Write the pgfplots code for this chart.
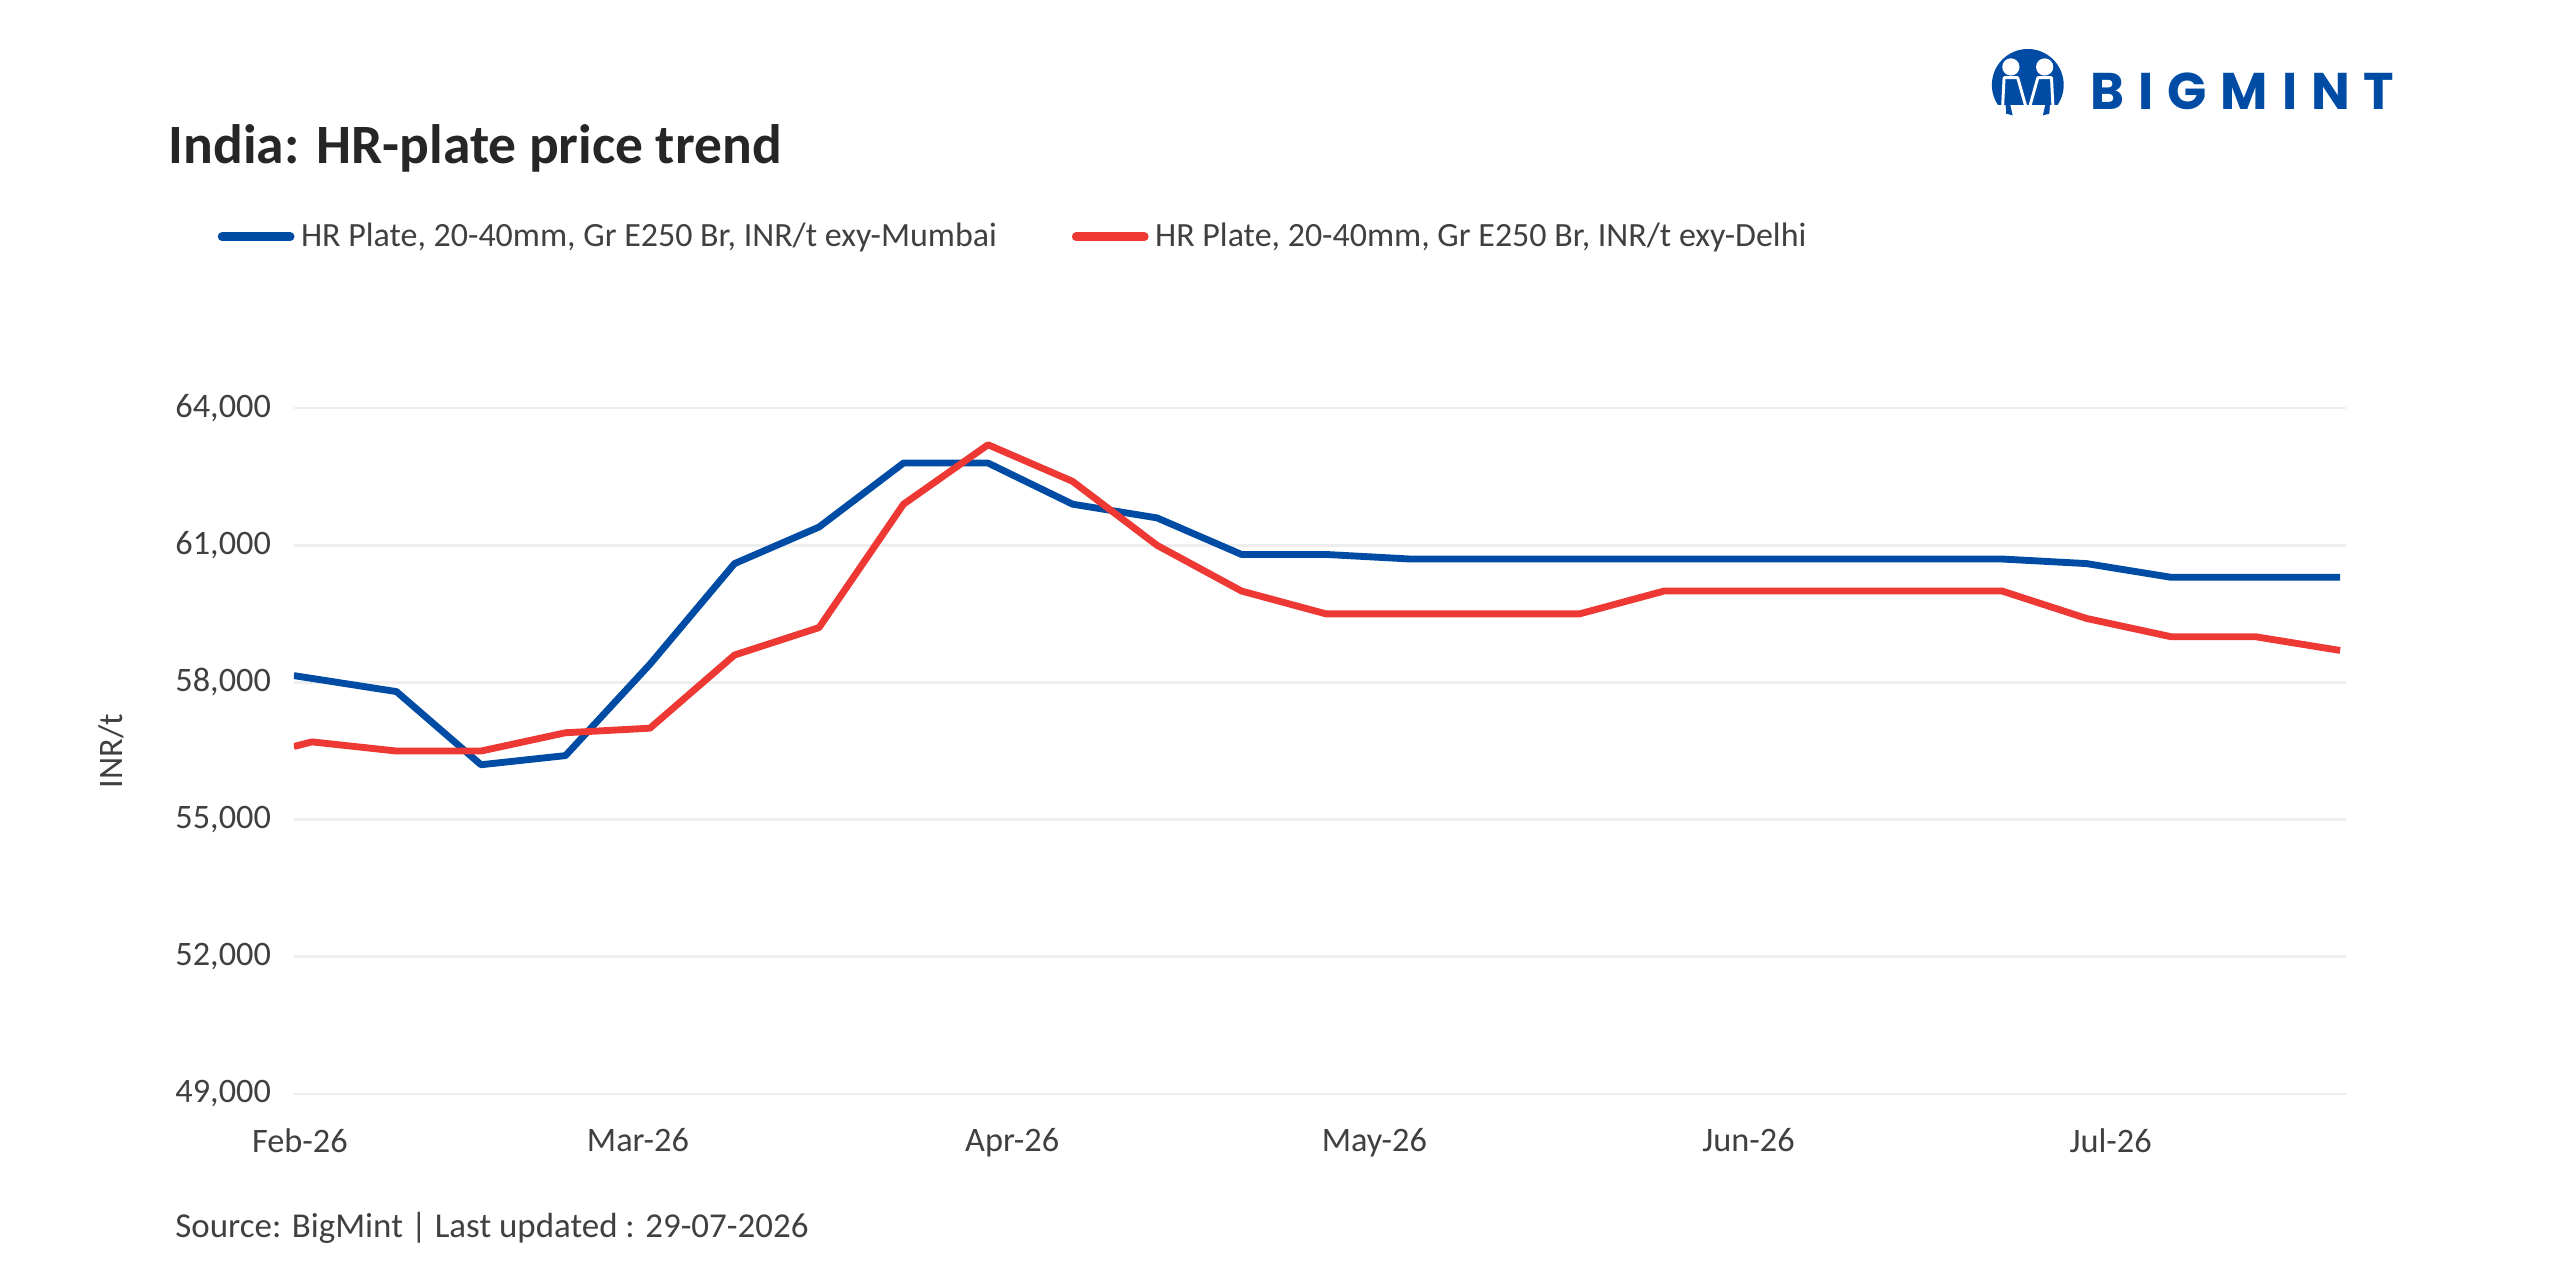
\documentclass[border=0pt]{standalone}
\usepackage{pgfplots}
\pgfplotsset{compat=1.18}
\usepackage{fontspec}
\setmainfont{Carlito}
\newfontfamily\logofont[LetterSpace=27]{Poppins}
\definecolor{mblue}{RGB}{0,76,165}
\definecolor{mred}{RGB}{237,56,51}
\definecolor{txt}{RGB}{64,64,64}
\definecolor{ttl}{RGB}{38,38,38}
\definecolor{gridc}{RGB}{238,238,238}
\begin{document}
\begin{tikzpicture}[x=1pt,y=1pt]
\path[use as bounding box] (0,0) rectangle (784,392);
\begin{axis}[
  at={(90pt,57pt)}, anchor=south west,
  scale only axis, width=628.5pt, height=210pt,
  xmin=-0.5, xmax=169.5, ymin=49000, ymax=64000,
  ytick={49000,52000,55000,58000,61000,64000},
  xtick={0,28,59,89,120,150},
  xticklabels={Feb-26,Mar-26,Apr-26,May-26,Jun-26,Jul-26},
  axis line style={draw=none},
  tick style={draw=none},
  ymajorgrids, grid style={gridc, line width=0.8pt},
  /pgf/number format/assume math mode=true,
  /pgf/number format/1000 sep={,},
  scaled y ticks=false,
  every tick label/.append style={font=\fontsize{10.5}{12}\selectfont, text=txt},
  yticklabel style={xshift=-3.5pt},
  xticklabel style={yshift=-7pt},
  ylabel={INR/t},
  ylabel style={at={(axis description cs:-0.089,0.5)}, anchor=center, rotate=0, font=\fontsize{10.5}{12}\selectfont, text=txt},
  legend style={at={(axis description cs:-0.0374,1.25)}, anchor=west, draw=none, fill=none,
    font=\fontsize{10.4}{12}\selectfont, text=txt, inner sep=0pt,
    /tikz/every even column/.append style={column sep=21pt}},
  legend columns=2,
  legend image code/.code={\draw[#1, line width=2.6pt, line cap=round] (1.3pt,0pt) -- (22.2pt,0pt);},
]
\addplot[mblue, line width=2.1pt, line join=round] table {
x y
-0.5 58150
8 57800
15 56200
22 56400
29 58400
36 60600
43 61400
50 62800
57 62800
64 61900
71 61600
78 60800
85 60800
92 60700
99 60700
106 60700
113 60700
120 60700
127 60700
134 60700
141 60700
148 60600
155 60300
162 60300
169 60300
};
\addlegendentry{HR Plate, 20-40mm, Gr E250 Br, INR/t exy-Mumbai}
\addplot[mred, line width=2.1pt, line join=round] table {
x y
-0.5 56600
1 56700
8 56500
15 56500
22 56900
29 57000
36 58600
43 59200
50 61900
57 63200
64 62400
71 61000
78 60000
85 59500
92 59500
99 59500
106 59500
113 60000
120 60000
127 60000
134 60000
141 60000
148 59400
155 59000
162 59000
169 58700
};
\addlegendentry{HR Plate, 20-40mm, Gr E250 Br, INR/t exy-Delhi}
\end{axis}
\node[anchor=base west, font=\fontsize{17}{20}\selectfont\bfseries, text=ttl, inner sep=0pt] at (51.5,342) {India: HR-plate price trend};
\node[anchor=base west, font=\fontsize{10.7}{12}\selectfont, text=txt, inner sep=0pt] at (53.5,13) {Source: BigMint \textbar{} Last updated : 29-07-2026};
% logo
\begin{scope}[shift={(621,366)}, scale=11]
  \begin{scope}
    \clip (-1.2,-0.55) rectangle (1.2,1.2);
    \fill[mblue] (0,0) circle (1);
  \end{scope}
  \fill[mblue] (-0.62,-0.5) -- (-0.5,-0.5) -- (-0.42,-0.85) -- (-0.6,-0.8) -- cycle;
  \fill[mblue] (0.62,-0.5) -- (0.5,-0.5) -- (0.42,-0.85) -- (0.6,-0.8) -- cycle;
  \draw[white, line width=0.9pt, line join=round] (-0.7,-0.6) -- (-0.66,0.2) -- (-0.28,0.2) -- (0,-0.8) -- (0.28,0.2) -- (0.66,0.2) -- (0.7,-0.6);
  \fill[white] (-0.47,0.5) circle (0.24);
  \fill[white] (0.47,0.5) circle (0.24);
\end{scope}
\node[anchor=base west, inner sep=0pt, text=mblue, font=\logofont\bfseries\fontsize{15.8}{18}\selectfont] at (640,358.5) {BIGMINT};
\end{tikzpicture}
\end{document}
